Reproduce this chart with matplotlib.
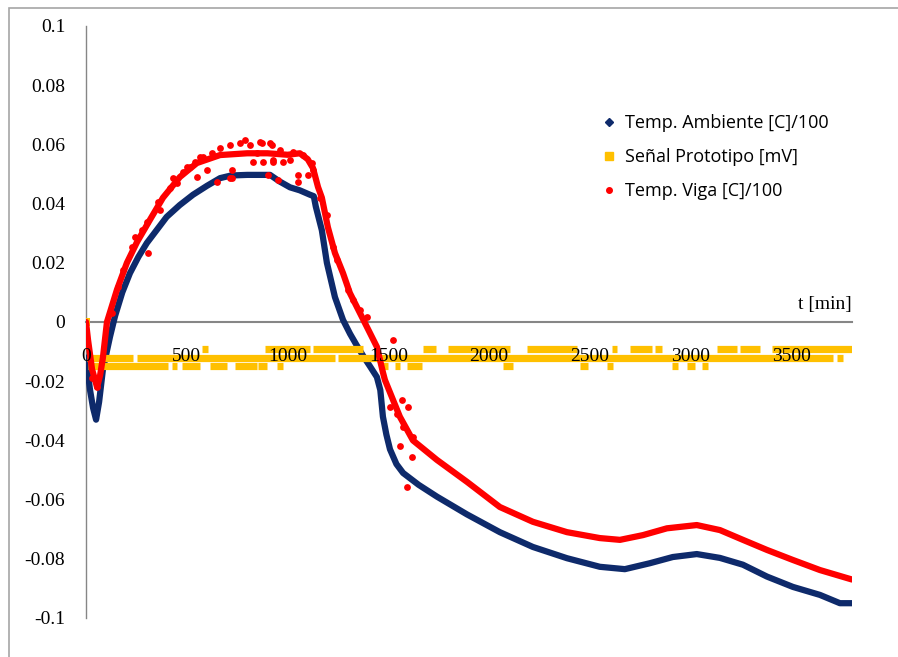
import matplotlib
matplotlib.use("Agg")
import matplotlib.pyplot as plt
from matplotlib.lines import Line2D
from matplotlib.patches import Rectangle

# Temp. Ambiente [C]/100
amb_t = [0, 20, 35, 50, 65, 84, 119, 144, 180, 218, 260, 302, 350, 400, 465, 531,
         600, 665, 720, 800, 913, 960, 1012, 1060, 1111, 1130, 1140, 1170, 1195, 1235,
         1275, 1310, 1344, 1380, 1409, 1443, 1460, 1473, 1490, 1508, 1540, 1573, 1650,
         1741, 1890, 2053, 2217, 2386, 2549, 2673, 2797, 2911, 3030, 3145, 3259, 3378,
         3507, 3641, 3740, 3800]
amb_y = [-0.012, -0.023, -0.029, -0.033, -0.027, -0.016, -0.005, 0.002, 0.010, 0.0165,
         0.022, 0.0267, 0.031, 0.0355, 0.0395, 0.043, 0.046, 0.0486, 0.0495, 0.0497,
         0.0497, 0.0475, 0.0455, 0.0445, 0.043, 0.0425, 0.039, 0.031, 0.020, 0.0084,
         0.0007, -0.004, -0.008, -0.012, -0.015, -0.0186, -0.023, -0.032, -0.038, -0.043,
         -0.048, -0.051, -0.055, -0.059, -0.065, -0.071, -0.076, -0.0798, -0.0827,
         -0.0835, -0.0815, -0.0794, -0.0784, -0.0797, -0.082, -0.086, -0.0895, -0.0922,
         -0.095, -0.095]

# Temp. Viga [C]/100 (main trace)
viga_t = [0, 10, 30, 55, 70, 84, 104, 154, 203, 253, 317, 382, 466, 550, 665, 800, 900,
          1000, 1061, 1100, 1126, 1151, 1170, 1200, 1235, 1275, 1309, 1374, 1443, 1473,
          1483, 1557, 1622, 1741, 1890, 2053, 2217, 2386, 2549, 2649, 2763, 2882, 3030,
          3145, 3259, 3378, 3507, 3641, 3775, 3800]
viga_y = [0.0, -0.006, -0.016, -0.022, -0.018, -0.012, 0.0, 0.011, 0.020, 0.027, 0.0345,
          0.042, 0.049, 0.0537, 0.0564, 0.057, 0.057, 0.0565, 0.057, 0.055, 0.052, 0.0456,
          0.042, 0.032, 0.0233, 0.0165, 0.0098, 0.001, -0.0084, -0.017, -0.0196, -0.032,
          -0.040, -0.0466, -0.054, -0.0625, -0.0675, -0.071, -0.073, -0.0736, -0.072,
          -0.0697, -0.0686, -0.0703, -0.0736, -0.077, -0.0804, -0.0838, -0.0865, -0.087]

# Temp. Viga scattered readings
viga_sc_t = [714, 764, 813, 873, 923, 665, 625, 580, 541, 516, 481, 451, 417, 357, 367,
             302, 278, 243, 228, 307, 184, 159, 129, 550, 600, 724, 724, 828, 928,
             863, 913, 962, 1027, 1076, 1121, 1126, 1101, 1052, 1052, 952, 903, 878, 928,
             977, 848, 1012, 1161, 1195, 1225, 1245, 1299, 1324, 1359, 1394,
             789, 565, 501, 432, 714, 650, 1523, 1567, 1597, 1508, 1572, 1557, 1617,
             1592, 1622, 1543, 30, 55]
viga_sc_y = [0.0598, 0.0605, 0.0598, 0.0605, 0.0598, 0.0588, 0.057, 0.0557, 0.054, 0.0524,
             0.0507, 0.047, 0.0453, 0.0405, 0.0378, 0.0338, 0.031, 0.0287, 0.0253, 0.0233,
             0.0176, 0.0118, 0.003, 0.049, 0.0514, 0.0486, 0.0514, 0.054, 0.054,
             0.0608, 0.0605, 0.0581, 0.0574, 0.0564, 0.0537, 0.0514, 0.0497, 0.0497, 0.0473,
             0.048, 0.0497, 0.054, 0.0547, 0.054, 0.057, 0.0547, 0.042, 0.036, 0.0253,
             0.021, 0.0108, 0.0074, 0.004, 0.0017,
             0.0615, 0.0557, 0.0524, 0.0486, 0.0486, 0.0473, -0.0061, -0.0264, -0.0287,
             -0.0287, -0.0355, -0.042, -0.0456, -0.0557, -0.039, -0.031, -0.019, -0.022]

# Señal Prototipo [mV]: runs of readings at each level (start, end)
sig_level = [-0.009, -0.012, -0.015]
sig_runs = [
    [(575, 605), (888, 1111), (1126, 1374), (1672, 1736), (1796, 2103), (2187, 2435),
     (2609, 2634), (2698, 2807), (2822, 2857), (3130, 3229), (3244, 3343), (3403, 3800)],
    [(5, 233), (253, 1235), (1250, 3705), (3725, 3755)],
    [(10, 407), (427, 451), (476, 565), (615, 699), (739, 848), (853, 898), (947, 977),
     (1473, 1498), (1533, 1557), (1592, 1667), (2068, 2118), (2450, 2490), (2584, 2614),
     (2907, 2936), (2981, 3021), (3055, 3085)],
]
sig_pts_t = [0, 0, 5]
sig_pts_y = [0.0, -0.004, -0.008]

x_ticks = [0, 500, 1000, 1500, 2000, 2500, 3000, 3500]
y_ticks = [-0.1, -0.08, -0.06, -0.04, -0.02, 0, 0.02, 0.04, 0.06, 0.08, 0.1]
y_tick_labels = ["-0.1", "-0.08", "-0.06", "-0.04", "-0.02", "0", "0.02", "0.04",
                 "0.06", "0.08", "0.1"]

BLUE = "#0e2a6b"
GOLD = "#ffc000"
RED = "#ff0000"
GRID = "#868686"
SERIF = "Liberation Serif"

fig = plt.figure(figsize=(8.98, 6.57), dpi=100)
ax = fig.add_axes([86 / 898, 1 - 618 / 657, (852 - 86) / 898, (618 - 26) / 657])

ax.plot(amb_t, amb_y, color=BLUE, lw=4.5, solid_joinstyle="round",
        solid_capstyle="round", zorder=3)
for level, runs in zip(sig_level, sig_runs):
    ax.hlines([level] * len(runs), [r[0] for r in runs], [r[1] for r in runs],
              color=GOLD, lw=5.2, zorder=4)
ax.scatter(sig_pts_t, sig_pts_y, marker="s", s=26, color=GOLD, lw=0, zorder=4)
ax.plot(viga_t, viga_y, color=RED, lw=4.5, solid_joinstyle="round",
        solid_capstyle="round", zorder=5)
ax.scatter(viga_sc_t, viga_sc_y, marker="o", s=24, color=RED, lw=0, zorder=5)

ax.set_xlim(0, 3800)
ax.set_ylim(-0.1, 0.1)
ax.spines["top"].set_visible(False)
ax.spines["right"].set_visible(False)
ax.spines["bottom"].set_position(("data", 0))
ax.spines["bottom"].set_color(GRID)
ax.spines["bottom"].set_linewidth(1.5)
ax.spines["bottom"].set_zorder(0.5)
ax.spines["left"].set_color(GRID)
ax.spines["left"].set_linewidth(1.0)
ax.spines["left"].set_zorder(0.5)
ax.xaxis.set_zorder(6)

ax.set_xticks(x_ticks)
ax.set_xticklabels([str(t) for t in x_ticks], fontfamily=SERIF, fontsize=14)
ax.set_yticks(y_ticks)
ax.set_yticklabels(y_tick_labels, fontfamily=SERIF, fontsize=14)
ax.tick_params(axis="x", length=0, pad=19)
ax.tick_params(axis="y", length=0, pad=15)

ax.text(1.0, 0.530, "t [min]", transform=ax.transAxes, ha="right", va="center",
        fontfamily=SERIF, fontsize=14)

handles = [
    Line2D([], [], ls="none", marker="D", ms=4, color=BLUE),
    Line2D([], [], ls="none", marker="s", ms=6, color=GOLD),
    Line2D([], [], ls="none", marker="o", ms=4, color=RED),
]
labels = ["Temp. Ambiente [C]/100", "Señal Prototipo [mV]", "Temp. Viga [C]/100"]
fig.legend(handles, labels, loc="upper left", bbox_to_anchor=(603 / 898, 1 - 114 / 657),
           frameon=False, borderaxespad=0, borderpad=0, handlelength=0.7,
           handletextpad=0.5, labelspacing=0.9, prop={"family": "Open Sans", "size": 13})

fig.add_artist(Rectangle((9 / 898, -0.1), 1.2, 1.1 - 8 / 657, transform=fig.transFigure,
                         fill=False, edgecolor="#a6a6a6", lw=1.2))

fig.savefig("out.png", dpi=100)
